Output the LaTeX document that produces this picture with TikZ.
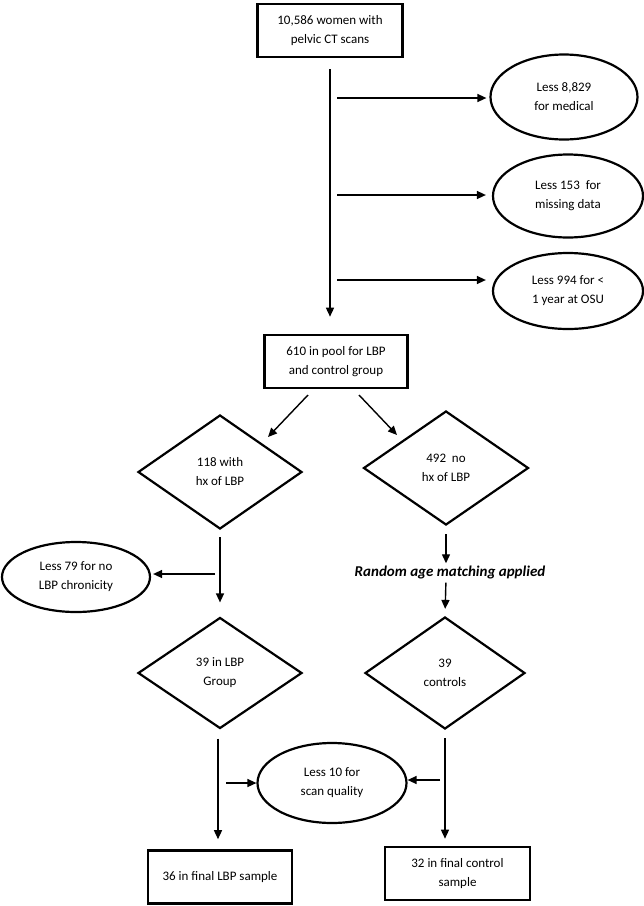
\documentclass[tikz,border=0pt]{standalone}
\usepackage{fontspec}
\setmainfont{Carlito}
\usetikzlibrary{shapes.geometric,arrows.meta}
\begin{document}
\begin{tikzpicture}[x=1pt,y=-1pt,
  every node/.style={font=\fontsize{13}{19}\selectfont, align=center, inner sep=0pt},
  box/.style={draw, line width=2.6pt, minimum width=#1, minimum height=53pt},
  oval/.style={draw, ellipse, line width=2.2pt},
  dia/.style={draw, diamond, line width=2.2pt},
  arr/.style={line width=1.4pt, -{Triangle[length=9pt,width=8pt]}}
]
\useasboundingbox (0,0) rectangle (644,906);
% nodes
\node[box=145pt] (top) at (330,30.5) {10,586 women with\\pelvic CT scans};
\node[oval, minimum width=147pt, minimum height=85pt] (e1) at (564,97) {Less 8,829\\for medical};
\node[oval, minimum width=150pt, minimum height=83pt] (e2) at (568,196) {Less 153\ \ for\\missing data};
\node[oval, minimum width=150pt, minimum height=76pt] (e3) at (568,291) {Less 994 for <\\1 year at OSU};
\node[box=143pt] (pool) at (336,361.5) {610 in pool for LBP\\and control group};
\node[dia, minimum width=164pt, minimum height=114pt] (d1) at (220,472) {118 with\\hx of LBP};
\node[dia, minimum width=165pt, minimum height=114pt] (d2) at (446,468) {492\ \ no\\hx of LBP};
\node[oval, minimum width=148pt, minimum height=70pt] (e4) at (76,577) {Less 79 for no\\LBP chronicity};
\node[font=\fontsize{15}{19}\selectfont\bfseries\itshape] (ram) at (450,572) {Random age matching applied};
\node[dia, minimum width=164pt, minimum height=111pt] (d3) at (220,673) {39 in LBP\\Group};
\node[dia, minimum width=160pt, minimum height=112pt] (d4) at (445,673) {39\\controls};
\node[oval, minimum width=149pt, minimum height=80pt] (e5) at (332,783) {Less 10 for\\scan quality};
\node[box=144pt] (b1) at (220,877) {36 in final LBP sample};
\node[box=145pt] (b2) at (457.5,873.5) {32 in final control\\sample};
% coordinates
\coordinate (m1) at (330,98);
\coordinate (m2) at (330,195);
\coordinate (m3) at (330,280);
\coordinate (pl1) at (308,395);
\coordinate (pl2) at (268,437);
\coordinate (pr1) at (359,395);
\coordinate (pr2) at (397,435);
\coordinate (l1) at (220,574);
\coordinate (s1) at (218,783);
\coordinate (s2) at (445,780);
% connectors
\draw[arr, shorten <=11pt, shorten >=17pt] (top.south -| m1) -- (pool.north -| m1);
\draw[arr, shorten <=7pt, shorten >=3pt] (m1) -- (m1 -| e1.west);
\draw[arr, shorten <=7pt, shorten >=6pt] (m2) -- (m2 -| e2.west);
\draw[arr, shorten <=7pt, shorten >=6pt] (m3) -- (m3 -| e3.west);
\draw[arr] (pl1) -- (pl2);
\draw[arr] (pr1) -- (pr2);
\draw[arr, shorten <=7pt, shorten >=14pt] (d1.south) -- (d3.north);
\draw[arr, shorten <=5pt, shorten >=2pt] (l1) -- (l1 -| e4.east);
\draw[arr, shorten <=8pt, shorten >=2pt] (d2.south) -- (ram.north -| d2.south);
\draw[arr, shorten <=4pt, shorten >=7pt] (ram.south -| d2.south) -- (d4.north);
\draw[arr, shorten <=9pt, shorten >=10pt] (d3.south -| s1) -- (b1.north -| s1);
\draw[arr, shorten <=8pt, shorten >=7pt] (d4.south) -- (b2.north -| d4.south);
\draw[arr, shorten <=8pt] (s1) -- (e5.west);
\draw[arr, shorten <=5pt] (s2) -- (s2 -| e5.east);
\end{tikzpicture}
\end{document}
